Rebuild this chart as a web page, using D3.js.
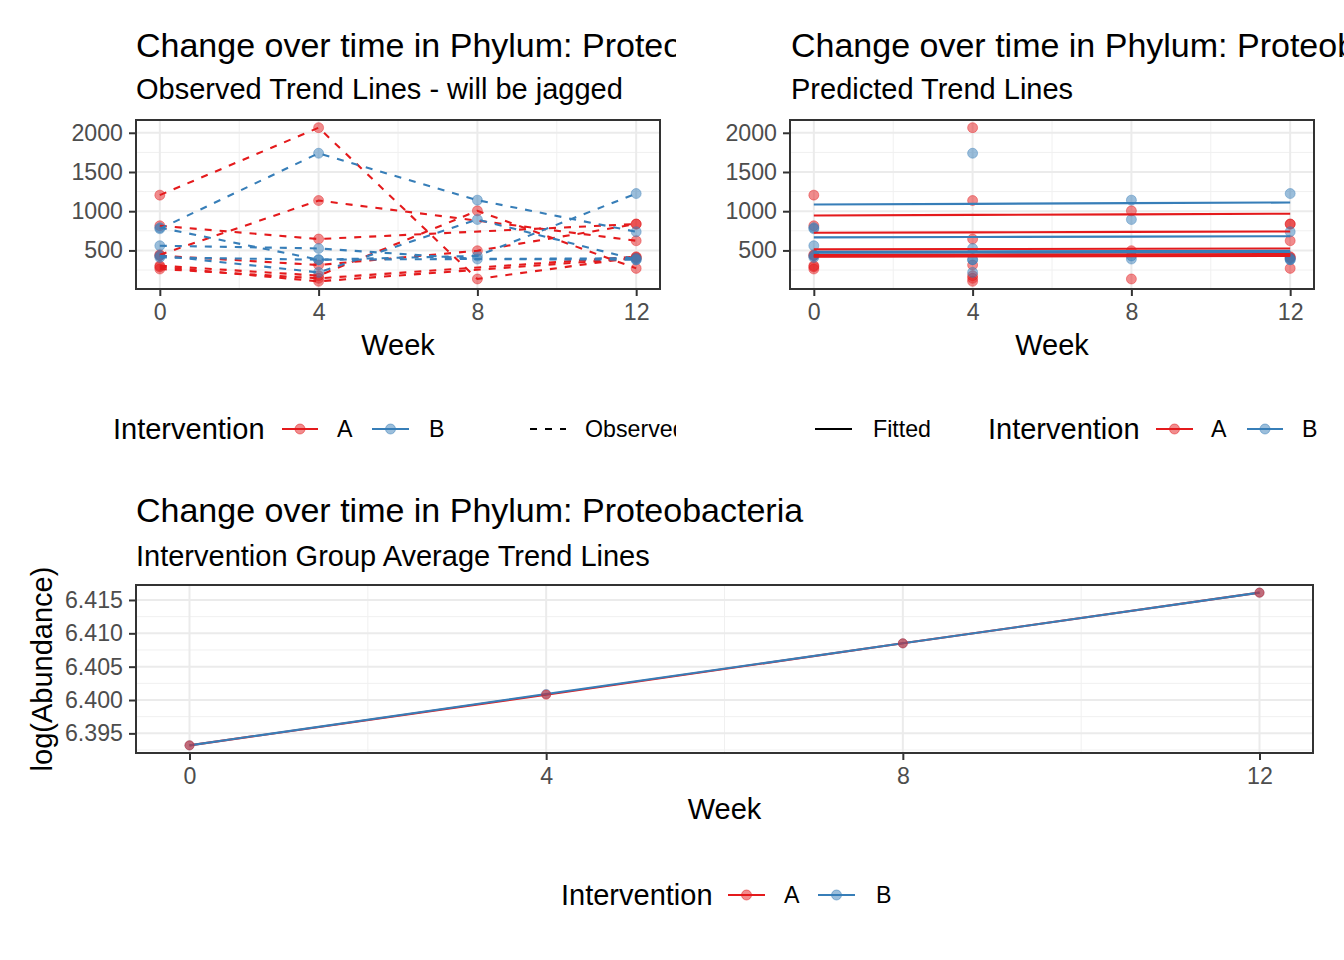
<!DOCTYPE html>
<html>
<head>
<meta charset="utf-8">
<script src="https://cdn.jsdelivr.net/npm/d3@7"></script>
<style>
body { margin: 0; background: #fff; }
svg { font-family: "Liberation Sans", Arial, sans-serif; }
</style>
</head>
<body>
<svg width="1344" height="960"></svg>
<script>
var weeks = [0, 4, 8, 12];
var groups = ["A", "B"];
var groupColors = ["#E41A1C", "#377EB8"];

// one row per subject, values at weeks 0, 4, 8, 12 (null = not sampled)
var subjectGroup = ["A", "A", "A", "A", "A", "A", "A", "B", "B", "B", "B", "B"];
var observed = [
    [1205, 2065, 136, 411],
    [445, 1136, null, 623],
    [814, 645, null, 836],
    [433, 314, 496, 836],
    [305, 178, 1005, 271],
    [263, 144, null, 420],
    [290, 106, null, 400],
    [776, 1739, 1141, 738],
    [790, 382, 430, 1225],
    [560, 525, 390, 382],
    [433, 220, 894, 382],
    [411, 382, null, 400]
];
var fitted = [
    [946, 953, 960, 968],
    [513, 517, 521, 525],
    [725, 730, 736, 742],
    [445, 448, 452, 455],
    [432, 435, 438, 442],
    [419, 422, 425, 429],
    [425, 428, 431, 435],
    [1086, 1094, 1103, 1111],
    [666, 671, 676, 681],
    [483, 487, 491, 494],
    [470, 474, 477, 481],
    [476, 480, 483, 487]
];
var avgA = [6.3932, 6.4008, 6.4085, 6.4161];
var avgB = [6.3932, 6.4009, 6.4085, 6.4161];

var topYTicks = [500, 1000, 1500, 2000];
var topYMinor = [250, 750, 1250, 1750];
var bottomYTicks = [6.395, 6.400, 6.405, 6.410, 6.415];
var bottomYMinor = [6.3925, 6.3975, 6.4025, 6.4075, 6.4125];
var xMinor = [2, 6, 10];

var svg = d3.select("svg");

function expand(lo, hi) {
    var r = hi - lo;
    return [lo - 0.05 * r, hi + 0.05 * r];
}

function drawPanel(root, box, yDomain, yTicks, yMinorTicks, yFormat) {
    var x = d3.scaleLinear().domain(expand(0, 12)).range([box.left, box.right]);
    var y = d3.scaleLinear().domain(yDomain).range([box.bottom, box.top]);
    var g = root.append("g");

    g.append("rect")
        .attr("x", box.left).attr("y", box.top)
        .attr("width", box.right - box.left).attr("height", box.bottom - box.top)
        .attr("fill", "#fff");

    // minor grid
    g.selectAll(".xminor").data(xMinor).enter().append("line")
        .attr("x1", function(d) { return x(d); }).attr("x2", function(d) { return x(d); })
        .attr("y1", box.top).attr("y2", box.bottom)
        .attr("stroke", "#F0F0F0").attr("stroke-width", 1);
    g.selectAll(".yminor").data(yMinorTicks.filter(function(d) {
            return d > yDomain[0] && d < yDomain[1];
        })).enter().append("line")
        .attr("x1", box.left).attr("x2", box.right)
        .attr("y1", function(d) { return y(d); }).attr("y2", function(d) { return y(d); })
        .attr("stroke", "#F0F0F0").attr("stroke-width", 1);
    // major grid
    g.selectAll(".xmajor").data(weeks).enter().append("line")
        .attr("x1", function(d) { return x(d); }).attr("x2", function(d) { return x(d); })
        .attr("y1", box.top).attr("y2", box.bottom)
        .attr("stroke", "#EBEBEB").attr("stroke-width", 2);
    g.selectAll(".ymajor").data(yTicks).enter().append("line")
        .attr("x1", box.left).attr("x2", box.right)
        .attr("y1", function(d) { return y(d); }).attr("y2", function(d) { return y(d); })
        .attr("stroke", "#EBEBEB").attr("stroke-width", 2);

    var xAxis = g.append("g")
        .attr("transform", "translate(0," + box.bottom + ")")
        .call(d3.axisBottom(x).tickValues(weeks).tickSize(7).tickPadding(8));
    var yAxis = g.append("g")
        .attr("transform", "translate(" + box.left + ",0)")
        .call(d3.axisLeft(y).tickValues(yTicks).tickFormat(yFormat).tickSize(7).tickPadding(6));
    [xAxis, yAxis].forEach(function(a) {
        a.select(".domain").remove();
        a.selectAll(".tick line").attr("stroke", "#333").attr("stroke-width", 2);
        a.selectAll(".tick text").attr("fill", "#4D4D4D").attr("font-size", "23.2px");
    });

    var marks = g.append("g");

    g.append("text")
        .attr("x", (box.left + box.right) / 2).attr("y", box.bottom + 66)
        .attr("text-anchor", "middle").attr("font-size", "29px").attr("fill", "#000")
        .text("Week");

    return {marks: marks, x: x, y: y, border: function() {
        g.append("rect")
            .attr("x", box.left).attr("y", box.top)
            .attr("width", box.right - box.left).attr("height", box.bottom - box.top)
            .attr("fill", "none").attr("stroke", "#333").attr("stroke-width", 2);
    }};
}

function titles(root, x, y1, y2, title, subtitle) {
    root.append("text").attr("x", x).attr("y", y1)
        .attr("font-size", "34px").attr("fill", "#000").text(title);
    root.append("text").attr("x", x).attr("y", y2)
        .attr("font-size", "29px").attr("fill", "#000").text(subtitle);
}

function legendTitle(root, x, y) {
    root.append("text").attr("x", x).attr("y", y).attr("dy", "0.35em")
        .attr("font-size", "29px").attr("fill", "#000").text("Intervention");
}

function legendKey(root, x1, x2, y, color, withPoint, dash, label, labelX) {
    root.append("line").attr("x1", x1).attr("x2", x2).attr("y1", y).attr("y2", y)
        .attr("stroke", color).attr("stroke-width", 2.2)
        .attr("stroke-dasharray", dash ? "7,8" : null);
    if (withPoint) {
        root.append("circle").attr("cx", (x1 + x2) / 2).attr("cy", y).attr("r", 5)
            .attr("fill", color).attr("fill-opacity", 0.5)
            .attr("stroke", color).attr("stroke-opacity", 0.5);
    }
    root.append("text").attr("x", labelX).attr("y", y).attr("dy", "0.35em")
        .attr("font-size", "23.2px").attr("fill", "#000").text(label);
}

function drawPoints(layer, x, y, values) {
    values.forEach(function(row, i) {
        var c = groupColors[groups.indexOf(subjectGroup[i])];
        row.forEach(function(v, j) {
            if (v === null) return;
            layer.append("circle")
                .attr("cx", x(weeks[j])).attr("cy", y(v)).attr("r", 5)
                .attr("fill", c).attr("fill-opacity", 0.5)
                .attr("stroke", c).attr("stroke-opacity", 0.5).attr("stroke-width", 0.8);
        });
    });
}

var allObs = [];
observed.forEach(function(r) { r.forEach(function(v) { if (v !== null) allObs.push(v); }); });
var topDomain = expand(d3.min(allObs), d3.max(allObs));

// clip for left half of the top row
svg.append("defs").append("clipPath").attr("id", "leftClip")
  .append("rect").attr("x", 0).attr("y", 0).attr("width", 676).attr("height", 470);

//Top left: observed
var left = svg.append("g").attr("clip-path", "url(#leftClip)");
titles(left, 136, 57, 99, "Change over time in Phylum: Proteobacteria", "Observed Trend Lines - will be jagged");
var p1 = drawPanel(left, {left: 136, right: 660, top: 120, bottom: 289}, topDomain, topYTicks, topYMinor, d3.format("d"));
drawPoints(p1.marks, p1.x, p1.y, observed);
observed.forEach(function(row, i) {
    var pts = weeks.map(function(w, j) { return [w, row[j]]; }).filter(function(d) { return d[1] !== null; });
    p1.marks.append("path")
        .attr("d", d3.line().x(function(d) { return p1.x(d[0]); }).y(function(d) { return p1.y(d[1]); })(pts))
        .attr("fill", "none")
        .attr("stroke", groupColors[groups.indexOf(subjectGroup[i])])
        .attr("stroke-width", 2.1).attr("stroke-dasharray", "7,8");
});
p1.border();
legendTitle(left, 113, 429);
legendKey(left, 282, 318, 429, groupColors[0], true, false, "A", 337);
legendKey(left, 372, 409, 429, groupColors[1], true, false, "B", 429);
legendKey(left, 530, 566, 429, "#000", false, true, "Observed", 585);

//Top right: fitted
var right = svg.append("g");
titles(right, 791, 57, 99, "Change over time in Phylum: Proteobacteria", "Predicted Trend Lines");
var p2 = drawPanel(right, {left: 790, right: 1314, top: 120, bottom: 289}, topDomain, topYTicks, topYMinor, d3.format("d"));
drawPoints(p2.marks, p2.x, p2.y, observed);
fitted.forEach(function(row, i) {
    p2.marks.append("path")
        .attr("d", d3.line().x(function(d, j) { return p2.x(weeks[j]); }).y(function(d) { return p2.y(d); })(row))
        .attr("fill", "none")
        .attr("stroke", groupColors[groups.indexOf(subjectGroup[i])])
        .attr("stroke-width", 2.1);
});
p2.border();
legendKey(right, 815, 852, 429, "#000", false, false, "Fitted", 873);
legendTitle(right, 988, 429);
legendKey(right, 1156, 1193, 429, groupColors[0], true, false, "A", 1211);
legendKey(right, 1247, 1283, 429, groupColors[1], true, false, "B", 1302);

//Bottom: group averages
var bottom = svg.append("g");
titles(bottom, 136, 522, 566, "Change over time in Phylum: Proteobacteria", "Intervention Group Average Trend Lines");
var allAvg = avgA.concat(avgB);
var p3 = drawPanel(bottom, {left: 136, right: 1313, top: 585, bottom: 753},
    expand(d3.min(allAvg), d3.max(allAvg)), bottomYTicks, bottomYMinor, d3.format(".3f"));
[avgA, avgB].forEach(function(vals, k) {
    p3.marks.append("path")
        .attr("d", d3.line().x(function(d, j) { return p3.x(weeks[j]); }).y(function(d) { return p3.y(d); })(vals))
        .attr("fill", "none").attr("stroke", groupColors[k]).attr("stroke-width", 2.1);
});
[avgB, avgA].forEach(function(vals) {
    var c = vals === avgA ? groupColors[0] : groupColors[1];
    vals.forEach(function(v, j) {
        p3.marks.append("circle")
            .attr("cx", p3.x(weeks[j])).attr("cy", p3.y(v)).attr("r", 4.6)
            .attr("fill", c).attr("fill-opacity", 0.5)
            .attr("stroke", c).attr("stroke-opacity", 0.5).attr("stroke-width", 0.8);
    });
});
p3.border();
bottom.append("text")
    .attr("transform", "translate(52,669) rotate(-90)")
    .attr("text-anchor", "middle").attr("font-size", "29px").attr("fill", "#000")
    .text("log(Abundance)");
legendTitle(bottom, 561, 895);
legendKey(bottom, 728, 765, 895, groupColors[0], true, false, "A", 784);
legendKey(bottom, 818, 855, 895, groupColors[1], true, false, "B", 876);
</script>
</body>
</html>
